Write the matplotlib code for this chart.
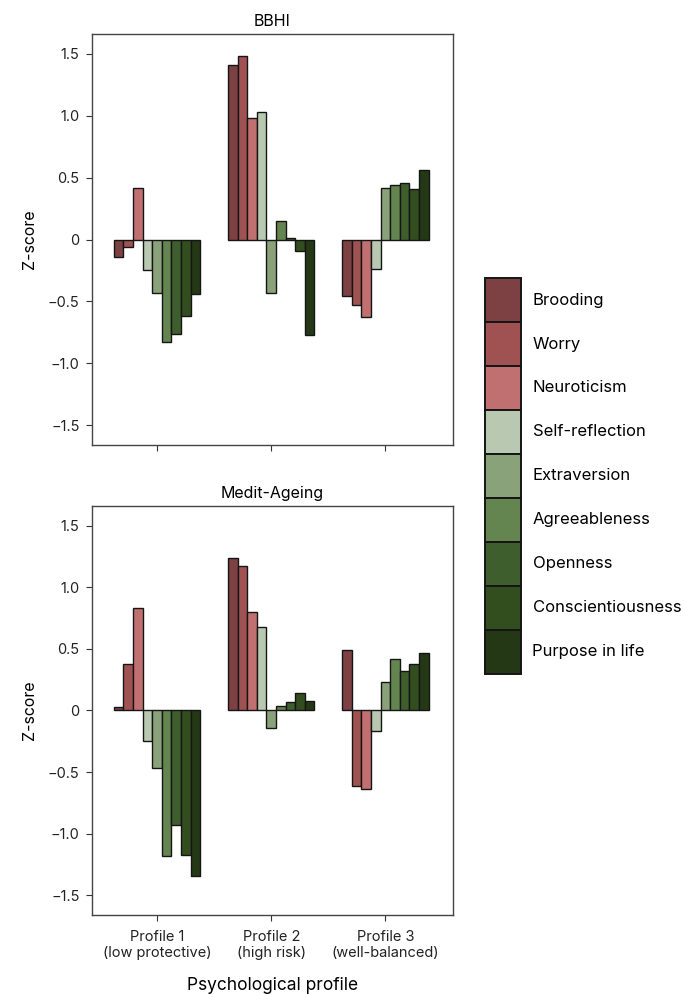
import numpy as np
import matplotlib
matplotlib.use("Agg")
import matplotlib.pyplot as plt
from matplotlib.patches import Patch

plt.rcParams['font.family'] = ['Inter', 'DejaVu Sans']

# traits (legend order) and their colours
traits = ["Brooding", "Worry", "Neuroticism", "Self-reflection", "Extraversion",
          "Agreeableness", "Openness", "Conscientiousness", "Purpose in life"]
colors = ["#7d4043", "#a05252", "#c07070", "#b9c9b1", "#8aa27a",
          "#64854f", "#3e5e2d", "#324d1e", "#243815"]

profiles = ["Profile 1\n(low protective)", "Profile 2\n(high risk)", "Profile 3\n(well-balanced)"]

# z-scores, one row per profile, one column per trait
bbhi = [
    [-0.14, -0.06, 0.42, -0.25, -0.43, -0.83, -0.76, -0.62, -0.44],
    [1.41, 1.48, 0.98, 1.03, -0.43, 0.15, 0.01, -0.09, -0.77],
    [-0.46, -0.53, -0.63, -0.24, 0.42, 0.44, 0.46, 0.41, 0.56],
]
medit = [
    [0.03, 0.38, 0.83, -0.25, -0.47, -1.18, -0.93, -1.17, -1.34],
    [1.24, 1.17, 0.80, 0.68, -0.14, 0.04, 0.07, 0.14, 0.08],
    [0.49, -0.61, -0.64, -0.17, 0.23, 0.42, 0.32, 0.38, 0.47],
]

yticks = [-1.5, -1.0, -0.5, 0, 0.5, 1.0, 1.5]
yticklabels = ["\u22121.5", "\u22121.0", "\u22120.5", "0", "0.5", "1.0", "1.5"]

fig = plt.figure(figsize=(6.86, 9.94), dpi=100)
ax1 = fig.add_axes([0.134, 0.5523, 0.526, 0.4135])
ax2 = fig.add_axes([0.134, 0.0795, 0.526, 0.4115])

w = 0.0842
x = np.arange(len(profiles))


def draw(ax, data, title):
    data = np.array(data)
    for j, name in enumerate(traits):
        ax.bar(x + (j - 4) * w, data[:, j], width=w, color=colors[j],
               edgecolor="#151515", linewidth=1.0)
    ax.set_xlim(-0.57, 2.59)
    ax.set_ylim(-1.66, 1.66)
    ax.set_yticks(yticks)
    ax.set_yticklabels(yticklabels, fontsize=10.5)
    ax.set_xticks(x)
    ax.set_title(title, fontsize=11.5, pad=6)
    ax.set_ylabel("Z-score", fontsize=11.5, labelpad=8)
    ax.tick_params(direction="out", length=4, width=0.8, colors="#333333", labelcolor="#222222")
    ax.tick_params(axis="y", pad=5)
    ax.tick_params(axis="x", pad=7)
    for s in ax.spines.values():
        s.set_color("#444444")
        s.set_linewidth(1.0)


draw(ax1, bbhi, "BBHI")
ax1.set_xticklabels([])
draw(ax2, medit, "Medit-Ageing")
ax2.set_xticklabels(profiles, fontsize=10.5, linespacing=1.2)
ax2.set_xlabel("Psychological profile", fontsize=12.5, labelpad=12)

handles = [Patch(facecolor=c, edgecolor="#151515", linewidth=1.4) for c in colors]
fig.legend(handles, traits, loc="upper left", bbox_to_anchor=(485 / 686, 1 - 278 / 994),
           frameon=False, fontsize=12, handlelength=2.15, handleheight=3.68,
           labelspacing=0, borderpad=0, borderaxespad=0, handletextpad=0.7)

fig.savefig("out.png", dpi=100)
